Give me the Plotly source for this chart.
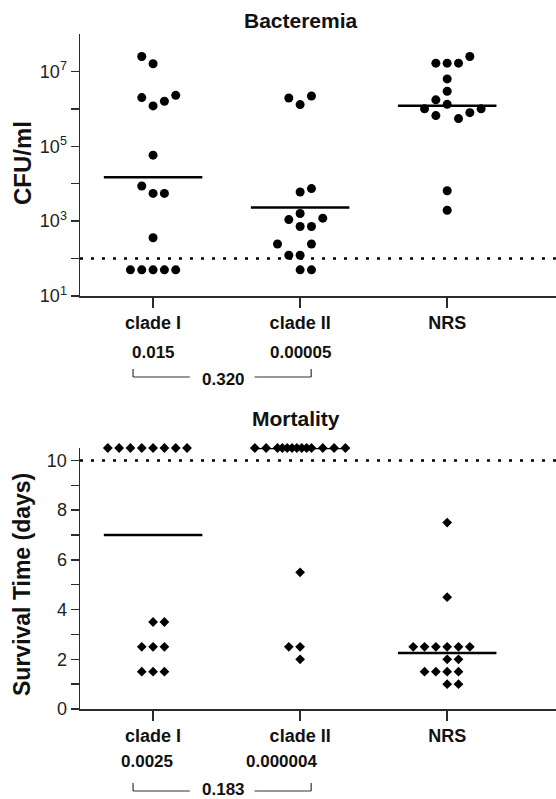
import numpy as np
import plotly.graph_objects as go

# ---------------- data ----------------
categories = ["clade I", "clade II", "NRS"]

# Bacteremia (CFU/ml) and beeswarm slot of each dot
bact_clade1 = [2.5e7, 1.6e7, 2.0e6, 1.2e6, 1.6e6, 2.3e6, 5.8e4, 8.7e3, 5.5e3, 5.5e3,
               360, 50, 50, 50, 50, 50]
bact_clade1_slot = [-1, 0, -1, 0, 1, 2, 0, -1, 0, 1, 0, -2, -1, 0, 1, 2]
bact_clade2 = [1.95e6, 2.2e6, 1.3e6, 7.4e3, 6.0e3, 1.6e3, 1.1e3, 1.2e3, 720, 720,
               245, 245, 123, 123, 50, 50]
bact_clade2_slot = [-1, 1, 0, 1, 0, 0, -1, 2, 0, 1, -2, 1, -1, 0, 0, 1]
bact_nrs = [2.5e7, 1.66e7, 1.66e7, 1.66e7, 6.3e6, 2.95e6, 1.74e6, 1.32e6, 1.0e6, 1.0e6,
            7.9e5, 6.6e5, 5.5e5, 6.5e3, 1.95e3]
bact_nrs_slot = [2, -1, 0, 1, 0, 0, -1, 0, -2, 3, 2, -1, 1, 0, 0]

# Mortality (survival days; 10.5 = survived past day 10)
mort_clade1 = [10.5] * 8 + [3.5, 3.5, 2.5, 2.5, 2.5, 1.5, 1.5, 1.5]
mort_clade1_slot = [-4, -3, -2, -1, 0, 1, 2, 3, 0, 1, -1, 0, 1, -1, 0, 1]
mort_clade2 = [10.5] * 13 + [5.5, 2.5, 2.5, 2.0]
mort_clade2_slot = [-4, -3, -2, -1.57, -1.14, -0.71, -0.29, 0.14, 0.57, 1, 2, 3, 4,
                    0, -1, 0, 0]
mort_nrs = [7.5, 4.5, 2.5, 2.5, 2.5, 2.5, 2.5, 2.5, 2.0, 2.0, 1.5, 1.5, 1.5, 1.5, 1.0, 1.0]
mort_nrs_slot = [0, 0, -3, -2, -1, 0, 1, 2, 0, 1, -2, -1, 0, 1, 0, 1]

bact_limit = 100
mort_limit = 10

bact_pvals = ["0.015", "0.00005"]
bact_p12 = "0.320"
mort_pvals = ["0.0025", "0.000004"]
mort_p12 = "0.183"

bact_ticks = [10, 1e3, 1e5, 1e7]
bact_ticktext = ["10<sup>1</sup>", "10<sup>3</sup>", "10<sup>5</sup>", "10<sup>7</sup>"]
bact_minor = [1e2, 1e4, 1e6]
mort_ticks = [0, 2, 4, 6, 8, 10]
mort_minor = [1, 3, 5, 7, 9]

# ---------------- layout helpers ----------------
W, H = 556, 799
ML, MR, MT, MB = 80, 0, 34, 90
PW, PH = W - ML - MR, H - MT - MB
SLOT = 0.077
HALF = 0.335
XR = [-0.497, 2.74]
FONT = "Liberation Sans, Arial, Helvetica, sans-serif"
AX = "#2b2b2b"


def px(xp):
    return (xp - ML) / PW


def py(yp):
    return (H - MB - yp) / PH


fig = go.Figure()

bact = [(bact_clade1, bact_clade1_slot), (bact_clade2, bact_clade2_slot), (bact_nrs, bact_nrs_slot)]
mort = [(mort_clade1, mort_clade1_slot), (mort_clade2, mort_clade2_slot), (mort_nrs, mort_nrs_slot)]

for i, (vals, slots) in enumerate(bact):
    fig.add_trace(go.Scatter(x=[i + s * SLOT for s in slots], y=vals, mode="markers",
                             marker=dict(symbol="circle", size=9, color="black"),
                             xaxis="x", yaxis="y", cliponaxis=False, showlegend=False))
    gm = 10 ** np.mean(np.log10(vals))
    fig.add_trace(go.Scatter(x=[i - HALF, i + HALF], y=[gm, gm], mode="lines",
                             line=dict(color="black", width=2.5),
                             xaxis="x", yaxis="y", showlegend=False))

for i, (vals, slots) in enumerate(mort):
    fig.add_trace(go.Scatter(x=[i + s * SLOT for s in slots], y=vals, mode="markers",
                             marker=dict(symbol="diamond", size=7.5, color="black"),
                             xaxis="x2", yaxis="y2", cliponaxis=False, showlegend=False))
    med = float(np.median(vals))
    fig.add_trace(go.Scatter(x=[i - HALF, i + HALF], y=[med, med], mode="lines",
                             line=dict(color="black", width=2.5),
                             xaxis="x2", yaxis="y2", cliponaxis=False, showlegend=False))

# detection / observation limits
fig.add_trace(go.Scatter(x=XR, y=[bact_limit, bact_limit], mode="lines",
                         line=dict(color="black", width=2.5, dash="3px,8px"),
                         xaxis="x", yaxis="y", showlegend=False))
fig.add_trace(go.Scatter(x=XR, y=[mort_limit, mort_limit], mode="lines",
                         line=dict(color="black", width=2.5, dash="3px,8px"),
                         xaxis="x2", yaxis="y2", cliponaxis=False, showlegend=False))

top_dom = [py(296), 1.0]
bot_dom = [0.0, py(448)]

axcommon = dict(showline=True, linecolor=AX, linewidth=1.5, ticks="outside",
                tickcolor=AX, tickwidth=1.5, showgrid=False, zeroline=False,
                mirror=False, automargin=False)

fig.update_layout(
    template="none",
    width=W, height=H,
    margin=dict(l=ML, r=MR, t=MT, b=MB, autoexpand=False),
    paper_bgcolor="white", plot_bgcolor="white",
    font=dict(family=FONT, color="#222"),
    showlegend=False,
    xaxis=dict(domain=[0, 1], range=XR, anchor="y", tickvals=[0, 1, 2],
               ticktext=["<b>%s</b>" % c for c in categories], ticklen=10,
               tickfont=dict(size=18, color="#111"), **axcommon),
    yaxis=dict(domain=top_dom, type="log", range=[1, 8], anchor="x",
               tickvals=bact_ticks, ticktext=bact_ticktext, ticklen=8,
               tickfont=dict(size=18, color="#222"),
               minor=dict(tickvals=bact_minor, ticks="outside", ticklen=8,
                          tickcolor=AX, tickwidth=1.5),
               **axcommon),
    xaxis2=dict(domain=[0, 1], range=XR, anchor="y2", tickvals=[0, 1, 2],
                ticktext=["<b>%s</b>" % c for c in categories], ticklen=10,
                tickfont=dict(size=18, color="#111"), **axcommon),
    yaxis2=dict(domain=bot_dom, range=[0, 10.5], anchor="x2",
                tickvals=mort_ticks, ticklen=8,
                tickfont=dict(size=18, color="#222"),
                minor=dict(tickvals=mort_minor, ticks="outside", ticklen=8,
                           tickcolor=AX, tickwidth=1.5),
                **axcommon),
)


def label(text, x, y, size, xref="paper", angle=0):
    return dict(text=text, x=x, y=y, xref=xref, yref="paper", xanchor="center",
                yanchor="middle", textangle=angle, showarrow=False,
                font=dict(size=size, color="#111"))


ann = [
    label("<b>Bacteremia</b>", px(301), py(20), 21),
    label("<b>Mortality</b>", px(296), py(418), 21),
    label("<b>CFU/ml</b>", px(22), py(163), 24, angle=-90),
    label("<b>Survival Time (days)</b>", px(22), py(585), 23, angle=-90),
]
for i, p in enumerate(bact_pvals):
    ann.append(label("<b>%s</b>" % p, i, py(352), 17, xref="x"))
for i, p in enumerate(mort_pvals):
    ann.append(label("<b>%s</b>" % p, i - 0.04 - 0.09 * i, py(762), 17, xref="x2"))
ann.append(label("<b>%s</b>" % bact_p12, 0.48, py(379), 17, xref="x"))
ann.append(label("<b>%s</b>" % mort_p12, 0.48, py(789), 17, xref="x2"))
fig.update_layout(annotations=ann)

shapes = []
for xr, ybar, ytop in [("x", 377, 369), ("x2", 791, 783)]:
    segs = [(-0.136, 0.25), (0.69, 1.075)]
    for a, b in segs:
        shapes.append(dict(type="line", xref=xr, yref="paper", x0=a, x1=b,
                           y0=py(ybar), y1=py(ybar), line=dict(color="#333", width=1.2)))
    for xx in (-0.136, 1.075):
        shapes.append(dict(type="line", xref=xr, yref="paper", x0=xx, x1=xx,
                           y0=py(ybar), y1=py(ytop), line=dict(color="#333", width=1.2)))
fig.update_layout(shapes=shapes)

fig.write_html("out.html",
               config={"displayModeBar": False, "staticPlot": True},
               post_script="document.body.style.margin='0';document.body.style.overflow='hidden';")
